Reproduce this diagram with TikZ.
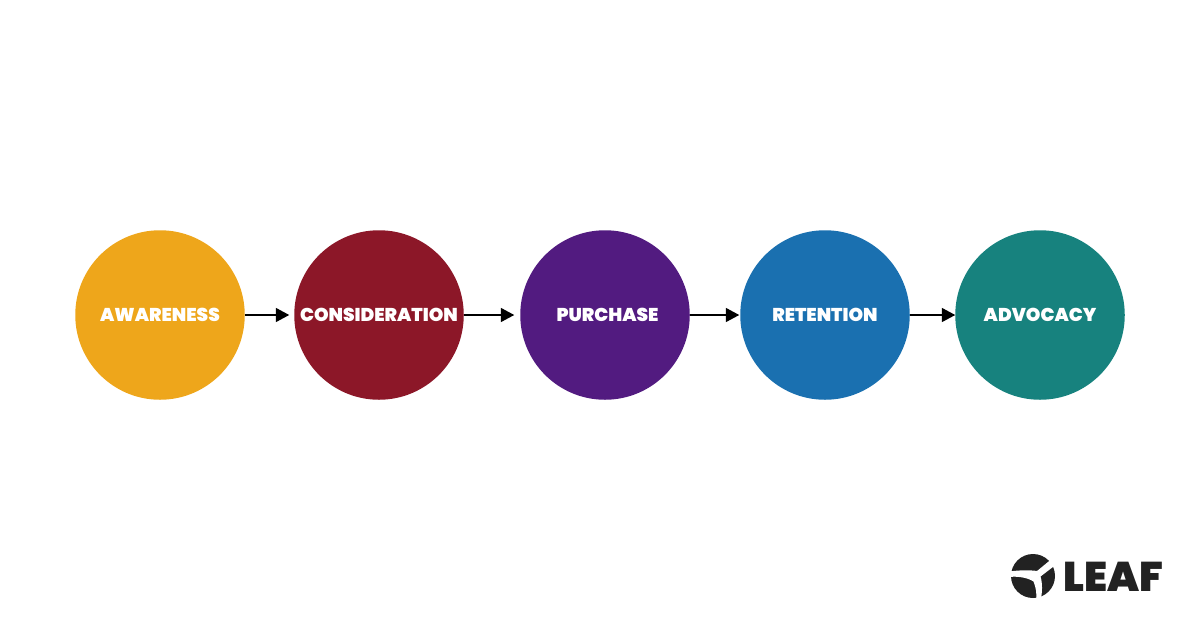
\documentclass[tikz,border=0pt]{standalone}
\usepackage{fontspec}
\setmainfont{Poppins}[BoldFont={Poppins Black}]
\usepackage{xcolor}
\usetikzlibrary{arrows.meta, positioning}
\definecolor{amberc}{HTML}{EEA61B}
\definecolor{redc}{HTML}{8C1728}
\definecolor{purplec}{HTML}{521B80}
\definecolor{bluec}{HTML}{1A70B0}
\definecolor{tealc}{HTML}{17827E}
\definecolor{inkc}{HTML}{222222}
\tikzset{
  stagebox/.style={circle, minimum size=3.39cm, inner sep=0pt, outer sep=0pt, text=white, font=\fontsize{10.55pt}{12pt}\selectfont\bfseries},
  flowarrow/.style={-{Triangle[length=0.27cm, width=0.28cm]}, line width=0.035cm, black}
}
\begin{document}
\begin{tikzpicture}
    \useasboundingbox (0,0) rectangle (24,12.6);
    % Stages
    \node[stagebox, fill=amberc] at (3.2,6.3) (awareness) {AWARENESS};
    \node[stagebox, fill=redc, right=0.99cm of awareness] (consideration) {CONSIDERATION};
    \node[stagebox, fill=purplec, right=1.13cm of consideration] (purchase) {\hspace{0.1cm}PURCHASE};
    \node[stagebox, fill=bluec, right=1.01cm of purchase] (retention) {RETENTION};
    \node[stagebox, fill=tealc, right=0.91cm of retention] (advocacy) {ADVOCACY};
    % Arrows
    \foreach \a/\b/\s in {awareness/consideration/0.1, consideration/purchase/0.12, purchase/retention/0.02, retention/advocacy/0} {
        \draw[flowarrow, shorten >=\s cm] (\a) -- (\b);
    }
    % Logo
    \fill[inkc] (20.66,1.08) circle (0.44cm);
    \fill[white] (21.02,1.41) -- (20.74,1.18) .. controls (20.6,1.2) and (20.4,1.2) .. (20.18,1.17) -- (20.18,1.06) .. controls (20.35,1.08) and (20.55,1.05) .. (20.67,0.97) .. controls (20.72,0.85) and (20.74,0.72) .. (20.72,0.58) -- (20.81,0.58) .. controls (20.85,0.75) and (20.85,0.95) .. (20.81,1.07) -- (21.11,1.3) -- cycle;
    \node[inkc, font=\fontsize{23.6pt}{26pt}\selectfont\bfseries, inner sep=0pt, anchor=west] at (21.27,1.06) (leaf) {LEAF};
\end{tikzpicture}
\end{document}
